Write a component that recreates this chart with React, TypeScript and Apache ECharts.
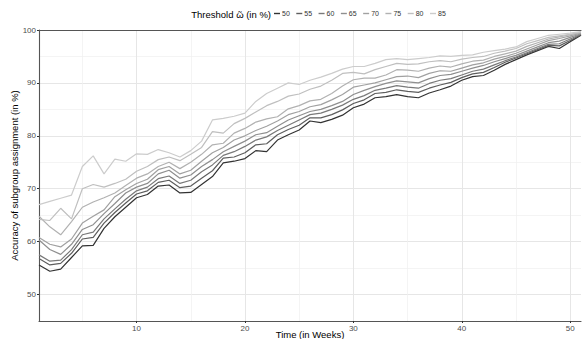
import { useEffect, useRef } from "react";
import * as echarts from "echarts";

const weeks = [1,2,3,4,5,6,7,8,9,10,11,12,13,14,15,16,17,18,19,20,21,22,23,24,25,26,27,28,29,30,31,32,33,34,35,36,37,38,39,40,41,42,43,44,45,46,47,48,49,50,51];

const thresholds = ["50", "55", "60", "65", "70", "75", "80", "85"];

const acc50 = [55.6,54.4,54.8,57.0,59.2,59.3,62.5,64.7,66.5,68.3,68.9,70.5,70.7,69.2,69.3,70.8,72.3,74.9,75.2,75.7,77.2,77.0,79.2,80.2,81.1,82.8,82.5,83.1,83.9,85.3,86.0,87.2,87.4,87.8,87.4,87.2,88.1,88.7,89.4,90.5,91.2,91.4,92.4,93.5,94.4,95.3,96.1,96.9,96.5,97.8,99.0];
const acc55 = [56.8,55.6,55.9,57.8,60.5,60.8,63.5,65.5,67.3,69.0,69.6,71.2,71.6,70.2,70.5,72.0,73.4,75.8,76.0,76.8,78.3,78.5,80.2,81.2,82.0,83.4,83.4,84.0,84.9,86.1,86.8,88.0,88.2,88.7,88.4,88.2,89.0,89.6,90.1,91.0,91.7,92.0,92.9,93.9,94.7,95.5,96.3,97.1,97.0,98.0,99.1];
const acc60 = [57.5,56.3,56.5,58.5,61.3,61.8,64.3,66.2,68.0,69.6,70.3,71.9,72.4,71.0,71.6,73.2,74.5,76.3,77.0,78.0,79.2,79.8,81.0,82.0,83.0,84.0,84.3,85.0,85.8,86.9,87.6,88.6,89.0,89.5,89.2,89.0,89.9,90.5,90.8,91.5,92.2,92.6,93.4,94.2,94.9,95.7,96.5,97.3,97.4,98.3,99.2];
const acc65 = [60.3,58.5,57.6,59.5,62.3,63.2,65.3,67.2,69.2,70.3,71.0,72.8,73.5,72.0,72.6,74.2,75.5,77.0,78.0,79.0,80.2,80.6,81.8,83.0,83.8,84.6,85.0,85.7,86.5,87.8,88.6,89.3,89.9,90.4,90.2,90.0,90.8,91.4,91.6,92.2,92.8,93.3,94.0,94.6,95.2,96.0,96.8,97.6,97.9,98.6,99.3];
const acc70 = [60.8,59.5,59.0,60.5,63.5,64.8,66.0,68.5,69.8,71.0,71.8,73.6,74.2,72.8,73.5,75.2,76.8,77.8,79.2,80.0,81.0,81.8,82.8,84.0,84.6,85.5,85.9,86.8,87.8,89.2,89.6,90.0,90.6,91.2,91.3,91.0,91.8,92.3,92.2,92.8,93.4,93.8,94.5,95.0,95.6,96.4,97.2,98.0,98.4,98.9,99.4];
const acc75 = [64.8,62.8,61.3,63.8,66.5,67.5,68.3,69.2,70.6,72.0,72.8,74.2,75.0,73.8,75.0,76.5,78.3,78.6,80.5,81.4,82.6,83.2,83.6,85.1,85.7,86.6,86.9,88.0,89.4,90.6,90.9,90.9,91.5,92.5,92.4,92.2,92.8,93.2,93.0,93.6,94.1,94.3,95.0,95.5,96.0,96.9,97.6,98.3,98.7,99.1,99.5];
const acc80 = [64.2,64.0,66.3,64.3,70.0,70.8,70.3,71.0,71.8,73.3,74.2,75.5,76.0,75.3,76.5,77.8,80.8,80.5,82.3,83.3,84.5,85.7,86.5,87.5,87.9,88.8,89.4,90.5,91.8,92.0,91.7,92.5,93.1,93.7,93.5,93.6,94.0,94.2,94.0,94.5,94.8,95.0,95.6,96.0,96.5,97.4,98.0,98.6,98.9,99.2,99.6];
const acc85 = [67.0,67.6,68.2,68.8,74.2,76.2,72.8,75.6,75.2,76.6,76.5,77.4,76.8,76.0,77.2,79.0,83.0,83.3,83.7,84.3,86.5,88.0,89.0,90.0,89.7,90.5,91.1,91.8,92.6,93.1,93.1,93.7,94.4,94.6,94.4,94.6,94.8,95.1,95.0,95.2,95.3,95.8,96.1,96.4,96.8,97.8,98.4,99.0,99.2,99.4,99.7];

const seriesValues = [acc50, acc55, acc60, acc65, acc70, acc75, acc80, acc85];
const greys = ["#333333", "#5e5e5e", "#797979", "#8f8f8f", "#a1a1a1", "#b1b1b1", "#bfbfbf", "#cccccc"];

const xMajor = [10, 20, 30, 40, 50];
const xMinor = [5, 15, 25, 35, 45];
const yMajor = [50, 60, 70, 80, 90, 100];
const yMinor = [55, 65, 75, 85, 95];

const FONT = "'Liberation Sans', Arial, sans-serif";

export default function App() {
  const ref = useRef<HTMLDivElement>(null);
  useEffect(() => {
    if (!ref.current) return;
    const chart = echarts.init(ref.current, null, { renderer: "svg" });
    const axisLineStyle = { color: "#555555", width: 1.1 };
    const majorGrid = { color: "#e6e6e6", width: 1 };
    const minorGrid = { color: "#efefef", width: 0.7 };
    chart.setOption({
      animation: false,
      textStyle: { fontFamily: FONT },
      grid: { left: 39, right: 2, top: 30, bottom: 18, containLabel: false, outerBoundsMode: "none" },
      legend: {
        left: 274,
        top: 10,
        padding: 0,
        icon: "rect",
        itemWidth: 6,
        itemHeight: 1.4,
        itemGap: 6.5,
        textStyle: { fontSize: 7, color: "#333333", fontFamily: FONT, padding: [0, 0, 0, -3] },
        data: thresholds,
      },
      graphic: [
        {
          type: "text",
          x: 271,
          y: 14,
          style: {
            text: "Threshold \u1FF6 (in %)",
            align: "right",
            verticalAlign: "middle",
            fontSize: 9.5,
            fontFamily: FONT,
            fill: "#000000",
          },
        },
      ],
      xAxis: [
        {
          type: "value",
          min: 1,
          max: 51,
          position: "bottom",
          axisLine: { show: true, onZero: false, lineStyle: axisLineStyle },
          axisTick: { show: true, length: 2, customValues: xMajor, lineStyle: { color: "#333333" } },
          axisLabel: { customValues: xMajor, fontSize: 8, color: "#4d4d4d", margin: 3, fontFamily: FONT },
          splitLine: { show: true, lineStyle: majorGrid },
          name: "Time (in Weeks)",
          nameLocation: "middle",
          nameGap: 8,
          nameMoveOverlap: false,
          nameTextStyle: { fontSize: 9.5, color: "#000000", fontFamily: FONT },
        },
        {
          type: "value",
          min: 1,
          max: 51,
          position: "top",
          axisLine: { show: true, onZero: false, lineStyle: axisLineStyle },
          axisTick: { show: false, customValues: xMinor },
          axisLabel: { show: false, customValues: xMinor },
          splitLine: { show: true, lineStyle: minorGrid },
        },
      ],
      yAxis: [
        {
          type: "value",
          min: 45,
          max: 100,
          position: "left",
          axisLine: { show: true, onZero: false, lineStyle: axisLineStyle },
          axisTick: { show: true, length: 2, customValues: yMajor, lineStyle: { color: "#333333" } },
          axisLabel: { customValues: yMajor, fontSize: 8, color: "#4d4d4d", margin: 3, fontFamily: FONT },
          splitLine: { show: true, lineStyle: majorGrid },
          name: "Accuracy of subgroup assignment (in %)",
          nameLocation: "middle",
          nameGap: 20,
          nameMoveOverlap: false,
          nameTextStyle: { fontSize: 9.5, color: "#000000", fontFamily: FONT },
        },
        {
          type: "value",
          min: 45,
          max: 100,
          position: "left",
          axisLine: { show: false },
          axisTick: { show: false, customValues: yMinor },
          axisLabel: { show: false, customValues: yMinor },
          splitLine: { show: true, lineStyle: minorGrid },
        },
      ],
      series: thresholds.map((t, k) => ({
        name: t,
        type: "line",
        xAxisIndex: 0,
        yAxisIndex: 0,
        showSymbol: false,
        symbol: "none",
        color: greys[k],
        lineStyle: { color: greys[k], width: 1.2 },
        itemStyle: { color: greys[k] },
        data: weeks.map((w, i) => [w, seriesValues[k][i]]),
      })),
    });
    return () => chart.dispose();
  }, []);
  return (
    <div
      ref={ref}
      style={{ position: "fixed", left: 0, top: 0, width: 583, height: 339, background: "#ffffff" }}
    />
  );
}
